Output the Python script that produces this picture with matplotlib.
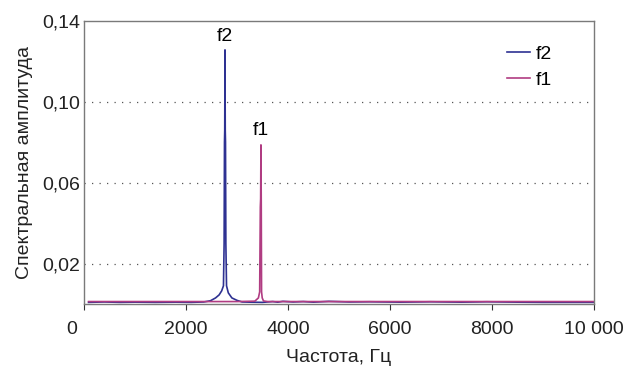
import matplotlib
matplotlib.use('Agg')
import matplotlib.pyplot as plt
import matplotlib.transforms as mtransforms
from matplotlib.ticker import FuncFormatter

plt.rcParams['font.family'] = ['Liberation Sans', 'DejaVu Sans']

# f2 spectrum (blue)
f2_freq = [90, 400, 700, 1000, 1400, 1800, 2100, 2350, 2480, 2580, 2650, 2700, 2735,
           2748, 2755, 2760, 2765, 2770, 2775, 2782, 2795, 2830, 2900, 3000, 3100,
           3250, 3500, 3700, 3800, 3900, 4100, 4300, 4500, 4800, 5200, 5600, 6200,
           6800, 7400, 7900, 8500, 9000, 9500, 10000]
f2_amp = [0.0008, 0.0010, 0.0008, 0.0009, 0.0008, 0.0009, 0.0008, 0.0010, 0.0016, 0.0030,
          0.0045, 0.0065, 0.0090, 0.0300, 0.0800, 0.0860, 0.1257, 0.0860, 0.0800, 0.0300,
          0.0090, 0.0055, 0.0030, 0.0018, 0.0010, 0.0009, 0.0008, 0.0012, 0.0009, 0.0013,
          0.0010, 0.0012, 0.0009, 0.0013, 0.0010, 0.0011, 0.0009, 0.0011, 0.0009, 0.0011,
          0.0009, 0.0008, 0.0008, 0.0008]

# f1 spectrum (pink)
f1_freq = [90, 1000, 2000, 3000, 3350, 3420, 3445, 3458, 3464, 3470, 3476, 3482, 3495,
           3520, 3600, 4000, 5000, 6000, 7000, 8000, 9000, 10000]
f1_amp = [0.0012, 0.0012, 0.0012, 0.0012, 0.0014, 0.0030, 0.0060, 0.0480, 0.0520, 0.0787,
          0.0500, 0.0060, 0.0030, 0.0015, 0.0012, 0.0012, 0.0012, 0.0012, 0.0012, 0.0012,
          0.0012, 0.0012]

x_ticks = [0, 2000, 4000, 6000, 8000, 10000]
x_labels = ['0', '2000', '4000', '6000', '8000', '10 000']
y_ticks = [0.02, 0.06, 0.10, 0.14]

fig = plt.figure(figsize=(6.23, 3.67), dpi=100)
ax = fig.add_axes([0.1348, 0.1717, 0.8186, 0.7711])

ax.plot(f2_freq, f2_amp, color='#2e3192', lw=1.2, label='f2')
ax.plot(f1_freq, f1_amp, color='#b03c82', lw=1.2, label='f1')

ax.set_xlim(0, 10000)
ax.set_ylim(0, 0.14)

ax.set_xticks(x_ticks)
ax.set_xticklabels(x_labels, fontsize=14, color='#222222')
ax.set_yticks(y_ticks)
ax.yaxis.set_major_formatter(FuncFormatter(lambda v, p: ('%.2f' % v).replace('.', ',')))
ax.tick_params(axis='y', length=0, labelsize=14, pad=3, labelcolor='#222222')
ax.tick_params(axis='x', length=4, width=0.8, color='#333333', pad=8)

# the "0" label sits a bit left of the axis in the original
lbl0 = ax.get_xticklabels()[0]
lbl0.set_transform(lbl0.get_transform() + mtransforms.ScaledTranslation(-0.12, 0, fig.dpi_scale_trans))

for y in y_ticks[:-1]:
    ax.axhline(y, color='#555555', lw=0.9, ls=(0, (1, 5)), zorder=0)

for s in ax.spines.values():
    s.set_color('#7a7a7a')
    s.set_linewidth(1.0)

ax.set_xlabel('Частота, Гц', fontsize=14, color='#222222', labelpad=8)
ax.set_ylabel('Спектральная амплитуда', fontsize=14, color='#222222', labelpad=6)

ax.text(2765, 0.1325, 'f2', ha='center', va='center', fontsize=14)
ax.text(3470, 0.0856, 'f1', ha='center', va='center', fontsize=14)

leg = ax.legend(loc='upper left', bbox_to_anchor=(0.795, 0.975), frameon=False,
                fontsize=14, handlelength=1.2, handletextpad=0.3, labelspacing=0.4)

plt.savefig('out.png', dpi=100)
